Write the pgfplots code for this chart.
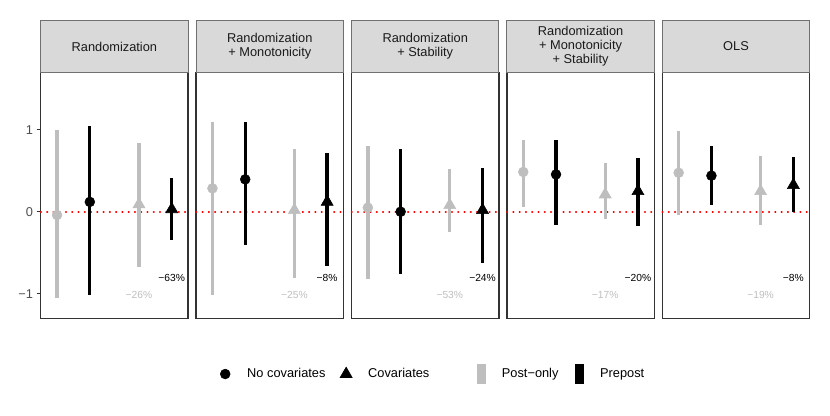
\documentclass[border=0pt]{standalone}
\usepackage{pgfplots}
\pgfplotsset{compat=1.18}
\usepackage{pgfplotstable}
\usepackage{fontspec}
\setmainfont{Liberation Sans}
\definecolor{cgray}{HTML}{BEBEBE}
\definecolor{c10}{HTML}{1A1A1A}
\definecolor{c20}{HTML}{333333}
\definecolor{c30}{HTML}{4D4D4D}
\definecolor{cstrip}{HTML}{D9D9D9}
\definecolor{cstripb}{HTML}{707070}
\newcommand{\stripfont}{\fontsize{9.6}{10.5}\selectfont}
\newcommand{\pctfont}{\fontsize{7.7}{8}\selectfont}

% columns: x, estimate, lower, upper
% rows: post-only/no cov, prepost/no cov, post-only/cov, prepost/cov
\pgfplotstableread{
x y lo hi
0.8 -0.04 -1.05 1.00
1.2 0.12 -1.02 1.04
1.8 0.09 -0.68 0.84
2.2 0.03 -0.35 0.41
}\panelA
\pgfplotstableread{
x y lo hi
0.8 0.285 -1.02 1.09
1.2 0.395 -0.41 1.09
1.8 0.02 -0.81 0.76
2.2 0.12 -0.66 0.72
}\panelB
\pgfplotstableread{
x y lo hi
0.8 0.05 -0.82 0.80
1.2 0.00 -0.76 0.76
1.8 0.08 -0.25 0.52
2.2 0.02 -0.63 0.53
}\panelC
\pgfplotstableread{
x y lo hi
0.8 0.485 0.06 0.875
1.2 0.455 -0.16 0.88
1.8 0.21 -0.085 0.59
2.2 0.25 -0.175 0.66
}\panelD
\pgfplotstableread{
x y lo hi
0.8 0.475 -0.035 0.99
1.2 0.44 0.08 0.80
1.8 0.25 -0.16 0.68
2.2 0.325 0.00 0.67
}\panelE

\pgfplotsset{
  panel/.style={scale only axis, width=110.6pt, height=184.5pt,
    xmin=0.6, xmax=2.4, ymin=-1.3, ymax=1.7, xtick=\empty, ytick=\empty,
    clip=false, axis line style={draw=c20, line width=1.1pt}, anchor=south west},
  eb/.style={forget plot, only marks, color=#1,
    error bars/y dir=both, error bars/y explicit, error bars/error mark=none,
    error bars/error bar style={line width=2.5pt, color=#1, solid}},
  table/ebt/.style={x=x, y=y, y error plus expr={\thisrow{hi}-\thisrow{y}}, y error minus expr={\thisrow{y}-\thisrow{lo}}},
}
\newcommand{\drawpanel}[1]{%
  \addplot[forget plot, color=red, line width=1.2pt, line cap=round, dash pattern=on 0.4pt off 4.3pt] coordinates {(0.6,0) (2.4,0)};
  \addplot[eb=cgray, mark=*, mark size=3.7pt, skip coords between index={1}{4}] table[ebt] {#1};
  \addplot[eb=black, mark=*, mark size=3.7pt, skip coords between index={0}{1}, skip coords between index={2}{4}] table[ebt] {#1};
  \addplot[eb=cgray, mark=triangle*, mark size=5.2pt, skip coords between index={0}{2}, skip coords between index={3}{4}] table[ebt] {#1};
  \addplot[eb=black, mark=triangle*, mark size=5.2pt, skip coords between index={0}{3}] table[ebt] {#1};
}
\newcommand{\strip}[1]{%
  \draw[fill=cstrip, draw=cstripb, line width=0.8pt] (rel axis cs:0,1) rectangle ([yshift=38.7pt]rel axis cs:1,1);
  \node[align=center, font=\stripfont, text=c10, inner sep=0pt] at ([yshift=19.35pt]rel axis cs:0.5,1) {#1};
}
\newcommand{\pct}[2]{%
  \node[font=\pctfont, text=cgray, inner sep=0pt] at (axis cs:1.8,-1.02) {#1};
  \node[font=\pctfont, text=black, inner sep=0pt] at (axis cs:2.2,-0.81) {#2};
}

\begin{document}
\begin{tikzpicture}
\useasboundingbox (0,0) rectangle (622.5pt,311.25pt);

\begin{axis}[panel, at={(30.5pt,72.5pt)},
  ytick={-1,0,1}, yticklabels={−1,0,1}, ytick pos=left,
  tick align=outside, major tick length=3pt,
  tick style={draw=c20, line width=0.8pt},
  yticklabel style={font=\stripfont, text=c30, inner sep=0pt, xshift=-2.6pt}]
\drawpanel{\panelA}
\strip{Randomization}
\pct{−26\%}{−63\%}
\end{axis}

\begin{axis}[panel, at={(147.05pt,72.5pt)},
  legend columns=4,
  legend style={at={(0.1417,-0.2264)}, anchor=west, draw=none, fill=none,
    inner sep=0pt, font=\stripfont, nodes={inner sep=0pt},
    /tikz/every odd column/.append style={column sep=10.5pt},
    /tikz/every even column/.append style={column sep=9.5pt}}]
\drawpanel{\panelB}
\strip{Randomization\\+ Monotonicity}
\pct{−25\%}{−8\%}
\addlegendimage{only marks, black, mark=*, mark size=3.7pt,
  legend image code/.code={\path[draw=none, fill=none] (-6pt,-8pt) rectangle (6pt,8pt); \draw plot coordinates {(0pt,0pt)};}}
\addlegendentry{No covariates}
\addlegendimage{only marks, black, mark=triangle*, mark size=5.2pt,
  legend image code/.code={\path[draw=none, fill=none] (-6pt,-8pt) rectangle (6pt,8pt); \draw plot coordinates {(0pt,0pt)};}}
\addlegendentry{Covariates}
\end{axis}

\begin{axis}[panel, at={(263.6pt,72.5pt)}]
\drawpanel{\panelC}
\strip{Randomization\\+ Stability}
\pct{−53\%}{−24\%}
\end{axis}

\begin{axis}[panel, at={(380.15pt,72.5pt)},
  legend columns=4,
  legend style={at={(-0.2298,-0.2264)}, anchor=west, draw=none, fill=none,
    inner sep=0pt, font=\stripfont, nodes={inner sep=0pt},
    /tikz/every odd column/.append style={column sep=9.5pt},
    /tikz/every even column/.append style={column sep=9.75pt}}]
\drawpanel{\panelD}
\strip{Randomization\\+ Monotonicity\\+ Stability}
\pct{−17\%}{−20\%}
\addlegendimage{cgray, legend image code/.code={\path[draw=none, fill=none] (-6pt,-8pt) rectangle (6pt,8pt); \fill[draw=none] (-3.5pt,-7.5pt) rectangle (3.5pt,7.5pt);}}
\addlegendentry{Post−only}
\addlegendimage{black, legend image code/.code={\path[draw=none, fill=none] (-6pt,-8pt) rectangle (6pt,8pt); \fill[draw=none] (-3.5pt,-7.5pt) rectangle (3.5pt,7.5pt);}}
\addlegendentry{Prepost}
\end{axis}

\begin{axis}[panel, at={(496.7pt,72.5pt)}]
\drawpanel{\panelE}
\strip{OLS}
\pct{−19\%}{−8\%}
\end{axis}
\end{tikzpicture}
\end{document}
